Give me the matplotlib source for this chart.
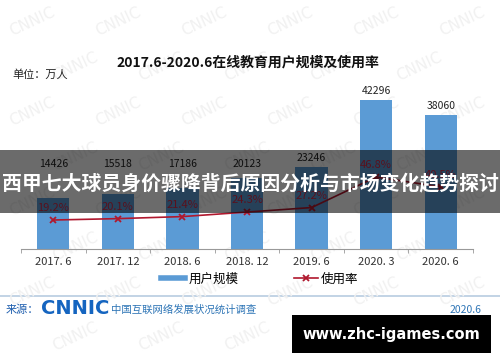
import matplotlib
matplotlib.use('Agg')
import matplotlib.pyplot as plt
from matplotlib.lines import Line2D
from matplotlib.patches import Rectangle

plt.rcParams['font.family'] = ['Noto Sans CJK SC', 'DejaVu Sans']

# data
periods = ['2017. 6', '2017. 12', '2018. 6', '2018. 12', '2019. 6', '2020. 3', '2020. 6']
users = [14426, 15518, 17186, 20123, 23246, 42296, 38060]   # 万人
rate = [19.2, 20.1, 21.4, 24.3, 27.2, 46.8, 40.5]            # %

W, H = 500, 362
fig = plt.figure(figsize=(5, 3.62), dpi=100)
fig.patch.set_facecolor('white')

def fx(px):
    return px / W

def fy(py):
    return 1 - py / H

# faint watermark in the background
bg = fig.add_axes([0, 0, 1, 1], zorder=-5)
bg.set_axis_off()
bg.set_xlim(0, W)
bg.set_ylim(H, 0)
for row in range(8):
    for col in range(6):
        wx = 32 + col * 86 + (row % 2) * 43
        if wx > 468:
            continue
        bg.text(wx, 22 + row * 45, 'CNNIC', rotation=25,
                fontsize=11, color='#f1f1f1', ha='center', va='center',
                family='DejaVu Sans')

# bars
ax = fig.add_axes([fx(21), fy(249), fx(452), 189 / H], zorder=1)
ax.patch.set_alpha(0)
x = list(range(len(periods)))
ax.bar(x, users, width=0.5, color='#5B9BD5', zorder=2)
for xi, v in zip(x, users):
    ax.text(xi, max(v, 21500) + 1200, str(v), ha='center', va='bottom',
            fontsize=7.5, color='#222222')
ax.set_xlim(-0.5, len(periods) - 0.5)
ax.set_ylim(0, 53650)
ax.set_yticks([])
ax.set_xticks(x)
ax.set_xticklabels(periods, fontsize=8, color='#333333')
ax.set_xticks([i - 0.5 for i in range(len(periods) + 1)], minor=True)
ax.tick_params(axis='x', which='major', length=0, pad=6)
ax.tick_params(axis='x', which='minor', length=3, color='#999999')
for s in ['top', 'right', 'left']:
    ax.spines[s].set_visible(False)
ax.spines['bottom'].set_color('#999999')
ax.spines['bottom'].set_linewidth(0.8)

# usage rate line
ax2 = ax.twinx()
ax2.plot(x, rate, color='#B0182E', lw=1.2, marker='x', ms=5, mew=1.3, zorder=3)
for xi, r in zip(x, rate):
    ax2.text(xi, r + 4.5, f'{r}%', ha='center', va='bottom', fontsize=8,
             color='#D42A45')
ax2.set_ylim(0.6, 121.9)
ax2.set_yticks([])
for s in ['top', 'right', 'left', 'bottom']:
    ax2.spines[s].set_visible(False)

# titles
fig.text(fx(248), fy(63), '2017.6-2020.6在线教育用户规模及使用率', ha='center',
         va='center', fontsize=10, fontweight='bold', color='#111111')
fig.text(fx(12), fy(75), '单位：万人', ha='left', va='center', fontsize=8,
         color='#222222')

# legend
handles = [Line2D([], [], color='#5B9BD5', lw=4),
           Line2D([], [], color='#B0182E', lw=1.2, marker='x', ms=5, mew=1.3)]
fig.legend(handles, ['用户规模', '使用率'], loc='center',
           bbox_to_anchor=(fx(260), fy(279)), ncol=2, frameon=False,
           fontsize=9, handlelength=1.9, columnspacing=4.4, handletextpad=0.3)

# footer
bg.plot([0, W], [296, 296], color='#B8CCE0', lw=1.2)
bg.text(6, 310, '来源：', ha='left', va='center', fontsize=8, color='#1F5FAF')
bg.text(41, 309, 'CNNIC', ha='left', va='center', fontsize=14, fontweight='bold',
        color='#1565C0', family='DejaVu Sans')
bg.text(111, 310, '中国互联网络发展状况统计调查', ha='left', va='center',
        fontsize=7.5, color='#2E75B6')
bg.text(482, 310, '2020.6', ha='right', va='center', fontsize=7.5,
        color='#2E75B6')

# overlay banner with headline
ov = fig.add_axes([0, 0, 1, 1], zorder=10)
ov.set_axis_off()
ov.set_xlim(0, W)
ov.set_ylim(H, 0)
ov.add_patch(Rectangle((0, 150), W, 63, color='black', alpha=0.58, lw=0))
ov.text(W / 2, 183, '西甲七大球员身价骤降背后原因分析与市场变化趋势探讨',
        ha='center', va='center', fontsize=14.3, fontweight='bold', color='white')
ov.add_patch(Rectangle((292, 315), 199, 38, color='black', lw=0))
ov.text(391.5, 334, 'www.zhc-igames.com', ha='center', va='center',
        fontsize=10.5, fontweight='bold', color='white', family='DejaVu Sans')

fig.savefig('out.png', dpi=100)
